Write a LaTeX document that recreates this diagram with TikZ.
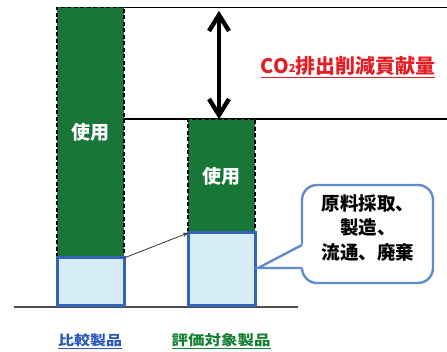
\documentclass[tikz,border=0pt]{standalone}
\usepackage{fontspec}
\newfontfamily\jp{Noto Sans CJK JP}
\usetikzlibrary{arrows.meta,calc}
\definecolor{barGreen}{RGB}{24,118,56}
\definecolor{lightBlue}{RGB}{214,236,246}
\definecolor{boxBlue}{RGB}{52,100,184}
\definecolor{callBlue}{RGB}{96,140,204}
\definecolor{redText}{RGB}{226,30,36}
\definecolor{labBlue}{RGB}{44,90,186}
\definecolor{labGreen}{RGB}{22,128,52}
\tikzset{
  greenbar/.style={fill=barGreen, draw=black, dashed, dash pattern=on 4pt off 2.5pt, line width=1.5pt, inner sep=0pt, outer sep=0pt, text=white, font=\jp\bfseries\fontsize{19}{21}\selectfont},
  bluebar/.style={fill=lightBlue, draw=boxBlue, line width=3pt, inner sep=0pt, outer sep=0pt},
  guide/.style={draw=black, line width=1.8pt},
  callout/.style={draw=callBlue, line width=2.4pt, fill=white},
  bigarrow/.style={draw=black, line width=4.4pt, line join=miter},
}
\begin{document}
\begin{tikzpicture}[x=1pt,y=-1pt]
\useasboundingbox (0,0) rectangle (447,352);
% base line
\coordinate (b0) at (14,307);
\coordinate (b1) at (298,307);
\draw[draw=black!70, line width=1.2pt] (b0) -- (b1);
% reference lines
\coordinate (t1) at (447,7.5);
\coordinate (t2) at (447,119);
\coordinate (s2) at (124,119);
\draw[guide] (124,7.5) -- (t1);
\draw[guide] (s2) -- (t2);
% bars
\node[greenbar, minimum width=67pt, minimum height=250.5pt] (gL) at (90.5,132.75) {使用};
\node[bluebar, minimum width=67pt, minimum height=48pt] (bL) at (90.5,282) {};
\node[greenbar, minimum width=67pt, minimum height=114pt] (gR) at (221.5,176) {使用};
\node[bluebar, minimum width=67pt, minimum height=73pt] (bR) at (221.5,269.5) {};
% double arrow
\coordinate (aT) at (219,15);
\coordinate (aB) at (219,115);
\draw[bigarrow] (aT) -- (aB);
\draw[bigarrow] ($(aT)+(-10,16)$) -- (aT) -- ($(aT)+(10,16)$);
\draw[bigarrow] ($(aB)+(-10,-16)$) -- (aB) -- ($(aB)+(10,-16)$);
% thin arrow
\draw[draw=black!80, line width=0.8pt, -{Stealth[length=5pt,width=4pt]}] (bL.north east) -- (bR.north west);
% red label
\node[text=redText, font=\jp\bfseries\fontsize{20}{22}\selectfont, inner sep=0pt] (co2) at (348,67) {\underline{CO\raisebox{0.1ex}{\fontsize{11}{12}\selectfont 2}排出削減貢献量}};
% callout
\coordinate (tip) at (258,268);
\coordinate (cu) at (302,245);
\coordinate (cl) at (302,268);
\draw[callout, rounded corners=15pt] (302,185) rectangle (433,283);
\fill[white] (tip) -- (305,243) -- (305,268) -- cycle;
\draw[draw=callBlue, line width=2.4pt, line join=miter] (cu) -- (tip) -- (cl);
\node[align=center, font=\jp\bfseries\fontsize{18.5}{24.5}\selectfont, inner sep=0pt] (ct) at (368,228) {原料採取、\\製造、\\流通、廃棄};
% bottom labels
\node[text=labBlue, font=\jp\bfseries\fontsize{16}{18}\selectfont, inner sep=0pt] (lab1) at (90,341) {\scalebox{1}[0.85]{\underline{比較製品}}};
\node[text=labGreen, font=\jp\bfseries\fontsize{16.5}{18}\selectfont, inner sep=0pt] (lab2) at (221,341) {\scalebox{1}[0.85]{\underline{評価対象製品}}};
\end{tikzpicture}
\end{document}
